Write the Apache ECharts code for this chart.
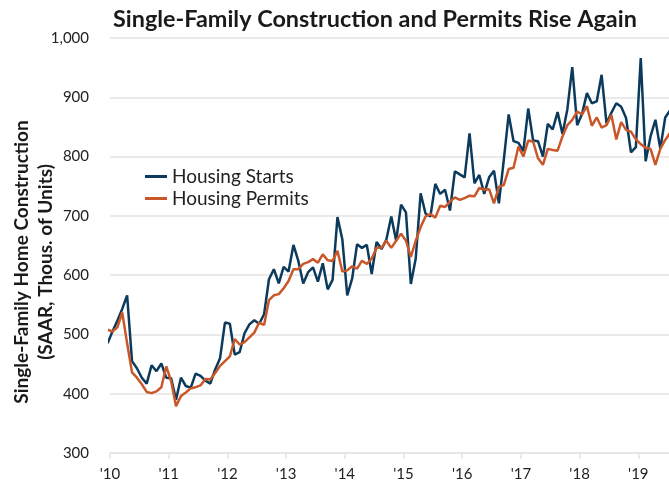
<!DOCTYPE html>
<html>
<head>
<meta charset="utf-8">
<script src="https://cdn.jsdelivr.net/npm/echarts@6/dist/echarts.min.js"></script>
<style>
  html, body { margin: 0; padding: 0; background: #fff; }
  #main { width: 669px; height: 489px; }
</style>
</head>
<body>
<div id="main"></div>
<script>
// first point is Dec 2009, one value per month, plotted mid-month
var firstYear = 2009;
var firstMonth = 12;
var yearLabels = ["'10", "'11", "'12", "'13", "'14", "'15", "'16", "'17", "'18", "'19"];

// single-family housing starts (SAAR, thous.)
var housingStarts = [
  485,
  505, 523, 543, 566, 455, 443, 427, 417, 448, 438, 451, 427,
  426, 390, 427, 413, 410, 434, 430, 422, 417, 441, 460, 520,
  518, 466, 470, 502, 517, 524, 518, 534, 593, 610, 586, 614,
  606, 651, 624, 586, 605, 613, 589, 620, 576, 592, 698, 660,
  566, 594, 652, 646, 651, 602, 656, 644, 660, 699, 658, 719,
  706, 585, 628, 738, 704, 699, 754, 737, 744, 709, 775, 770,
  765, 839, 755, 769, 737, 765, 776, 721, 794, 871, 826, 823,
  809, 881, 827, 826, 800, 855, 846, 875, 838, 880, 951, 853,
  872, 907, 890, 893, 938, 856, 874, 890, 884, 865, 807, 816,
  966, 792, 834, 862, 813, 866, 878
];

// single-family permits (SAAR, thous.)
var housingPermits = [
  508,
  505, 512, 537, 485, 436, 427, 416, 403, 401, 404, 411, 446,
  421, 379, 396, 402, 409, 411, 414, 425, 424, 435, 447, 455,
  463, 492, 483, 487, 495, 503, 520, 516, 558, 566, 568, 578,
  590, 610, 610, 619, 622, 627, 621, 635, 625, 624, 641, 606,
  608, 615, 611, 624, 619, 628, 646, 646, 658, 646, 658, 670,
  658, 631, 658, 681, 699, 703, 697, 717, 715, 724, 731, 727,
  730, 734, 733, 747, 744, 745, 721, 749, 752, 779, 781, 817,
  800, 827, 825, 797, 786, 813, 811, 810, 834, 853, 862, 876,
  871, 885, 852, 866, 849, 853, 870, 829, 858, 845, 842, 829,
  821, 815, 813, 786, 813, 828, 840
];

function toPoints(values) {
  return values.map(function (v, i) {
    var t = firstYear + (firstMonth - 0.5) / 12 + i / 12;
    return [t, v];
  });
}

var font = "Lato, 'Noto Sans', sans-serif";
var chart = echarts.init(document.getElementById('main'));

var option = {
  animation: false,
  backgroundColor: '#fff',
  title: {
    text: 'Single-Family Construction and Permits Rise Again',
    left: 108,
    top: 3,
    textStyle: { fontFamily: font, fontSize: 23.4, fontWeight: 'bold', color: '#1a1a1a' }
  },
  legend: {
    orient: 'vertical',
    left: 140,
    top: 162,
    itemWidth: 22,
    itemHeight: 3,
    itemGap: 3,
    icon: 'rect',
    textStyle: { fontFamily: font, fontSize: 19, color: '#222' },
    data: ['Housing Starts', 'Housing Permits']
  },
  graphic: [{
    type: 'text',
    x: 34,
    y: 262,
    rotation: Math.PI / 2,
    style: {
      text: 'Single-Family Home Construction\n(SAAR, Thous. of Units)',
      fontFamily: font,
      fontSize: 19,
      fontWeight: 'bold',
      lineHeight: 24,
      fill: '#1a1a1a',
      align: 'center',
      verticalAlign: 'middle'
    }
  }],
  grid: { left: 110, right: 0, top: 38, bottom: 36 },
  xAxis: {
    type: 'value',
    min: 2010,
    max: 2019.523,
    interval: 1,
    axisLine: { show: true, lineStyle: { color: '#e3e3e3', width: 1.5 } },
    axisTick: { show: true, length: 6, lineStyle: { color: '#e3e3e3', width: 1.5 } },
    splitLine: { show: false },
    axisLabel: {
      margin: 14,
      fontFamily: font,
      fontSize: 15,
      color: '#222',
      showMaxLabel: false,
      formatter: function (v) {
        var k = Math.round(v - 2010);
        if (Math.abs(v - 2010 - k) > 0.001) return '';
        return yearLabels[k] || '';
      }
    }
  },
  yAxis: {
    type: 'value',
    min: 300,
    max: 1000,
    interval: 100,
    axisLine: { show: false },
    axisTick: { show: false },
    splitLine: { lineStyle: { color: '#e3e3e3', width: 1.5 } },
    axisLabel: {
      margin: 21,
      fontFamily: font,
      fontSize: 15,
      color: '#222',
      formatter: function (v) {
        return v >= 1000 ? '1,' + String(v).slice(1) : String(v);
      }
    }
  },
  series: [
    {
      name: 'Housing Starts',
      type: 'line',
      data: toPoints(housingStarts),
      showSymbol: false,
      symbol: 'none',
      color: '#0b3a5c',
      lineStyle: { color: '#0b3a5c', width: 2.5 },
      z: 2
    },
    {
      name: 'Housing Permits',
      type: 'line',
      data: toPoints(housingPermits),
      showSymbol: false,
      symbol: 'none',
      color: '#c9572a',
      lineStyle: { color: '#c9572a', width: 2.5 },
      z: 3
    }
  ]
};

chart.setOption(option);
</script>
</body>
</html>
